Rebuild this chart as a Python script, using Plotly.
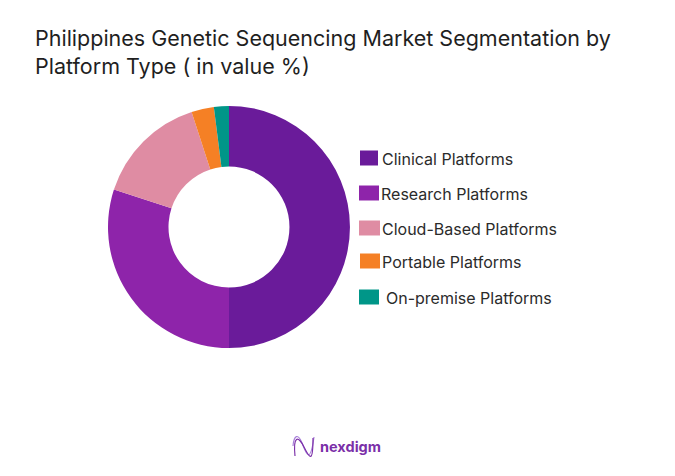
import plotly.graph_objects as go

platforms = ['Clinical Platforms', 'Research Platforms', 'Cloud-Based Platforms', 'Portable Platforms', 'On-premise Platforms']
shares = [50, 30, 15, 3, 2]
colors = ['#6a1b9a', '#8e24aa', '#df8ca3', '#f58025', '#009688']

# the page body has an 8px margin, so the figure is 16px smaller than the window
W, H = 659, 460
OFFSET = 8
FONT = 'Inter'
TEXT = '#2b2b2b'

# legend is placed by hand, the gaps in the original are uneven
swatch_left = [360, 359, 359, 360, 359]
swatch_right = [378, 379, 380, 380, 379]
swatch_mid = [158, 193, 228, 261, 297]
label_left = [380, 379, 380, 380, 384]


def px(x):
    return (x - OFFSET) / W


def py(y):
    return 1 - (y - OFFSET) / H


def wave(p0, c1, c2, p1, c3, p2):
    return (f'M {px(p0[0])} {py(p0[1])} C {px(c1[0])} {py(c1[1])}, {px(c2[0])} {py(c2[1])}, {px(p1[0])} {py(p1[1])} '
            f'S {px(c3[0])} {py(c3[1])}, {px(p2[0])} {py(p2[1])}')


fig = go.Figure()

# donut
fig.add_trace(go.Pie(labels=platforms, values=shares, hole=0.5, sort=False, direction='clockwise', rotation=0,
                     marker=dict(colors=colors, line=dict(width=0)), textinfo='none', showlegend=False,
                     domain=dict(x=[px(108), px(350)], y=[py(348), py(106)])))

# titulo
fig.add_annotation(text='Philippines Genetic Sequencing Market Segmentation by<br>Platform Type ( in value %)',
                   x=px(33), y=py(23), xref='paper', yref='paper', xanchor='left', yanchor='top',
                   align='left', showarrow=False, font=dict(family=FONT, size=21.5, color='#1f1f1f'))

# legenda
for i in range(len(platforms)):
    fig.add_shape(type='rect', xref='paper', yref='paper', x0=px(swatch_left[i]), x1=px(swatch_right[i]),
                  y0=py(swatch_mid[i] - 7.5), y1=py(swatch_mid[i] + 7.5),
                  fillcolor=colors[i], line_width=0)
    fig.add_annotation(text=platforms[i], x=px(label_left[i]), y=py(swatch_mid[i] + 1), xref='paper', yref='paper',
                       xanchor='left', yanchor='middle', showarrow=False, font=dict(family=FONT, size=16, color=TEXT))

# logo
fig.add_shape(type='path', xref='paper', yref='paper', line=dict(color='#a77fd8', width=1.2),
              path=wave((293, 446), (294, 435), (298, 433), (302, 443), (310, 466), (314, 437)))
fig.add_shape(type='path', xref='paper', yref='paper', line=dict(color='#7b2fa8', width=1.2),
              path=wave((295, 456), (293, 436), (298, 435), (304, 447), (313, 463), (313, 438)))
fig.add_annotation(text='<b>nexdigm</b>', x=px(318), y=py(446), xref='paper', yref='paper', xanchor='left',
                   yanchor='middle', showarrow=False, font=dict(family=FONT, size=14.5, color='#7b2fa8'))

fig.update_layout(width=W, height=H, margin=dict(l=0, r=0, t=0, b=0), paper_bgcolor='white', plot_bgcolor='white')

fig.write_html('out.html')
